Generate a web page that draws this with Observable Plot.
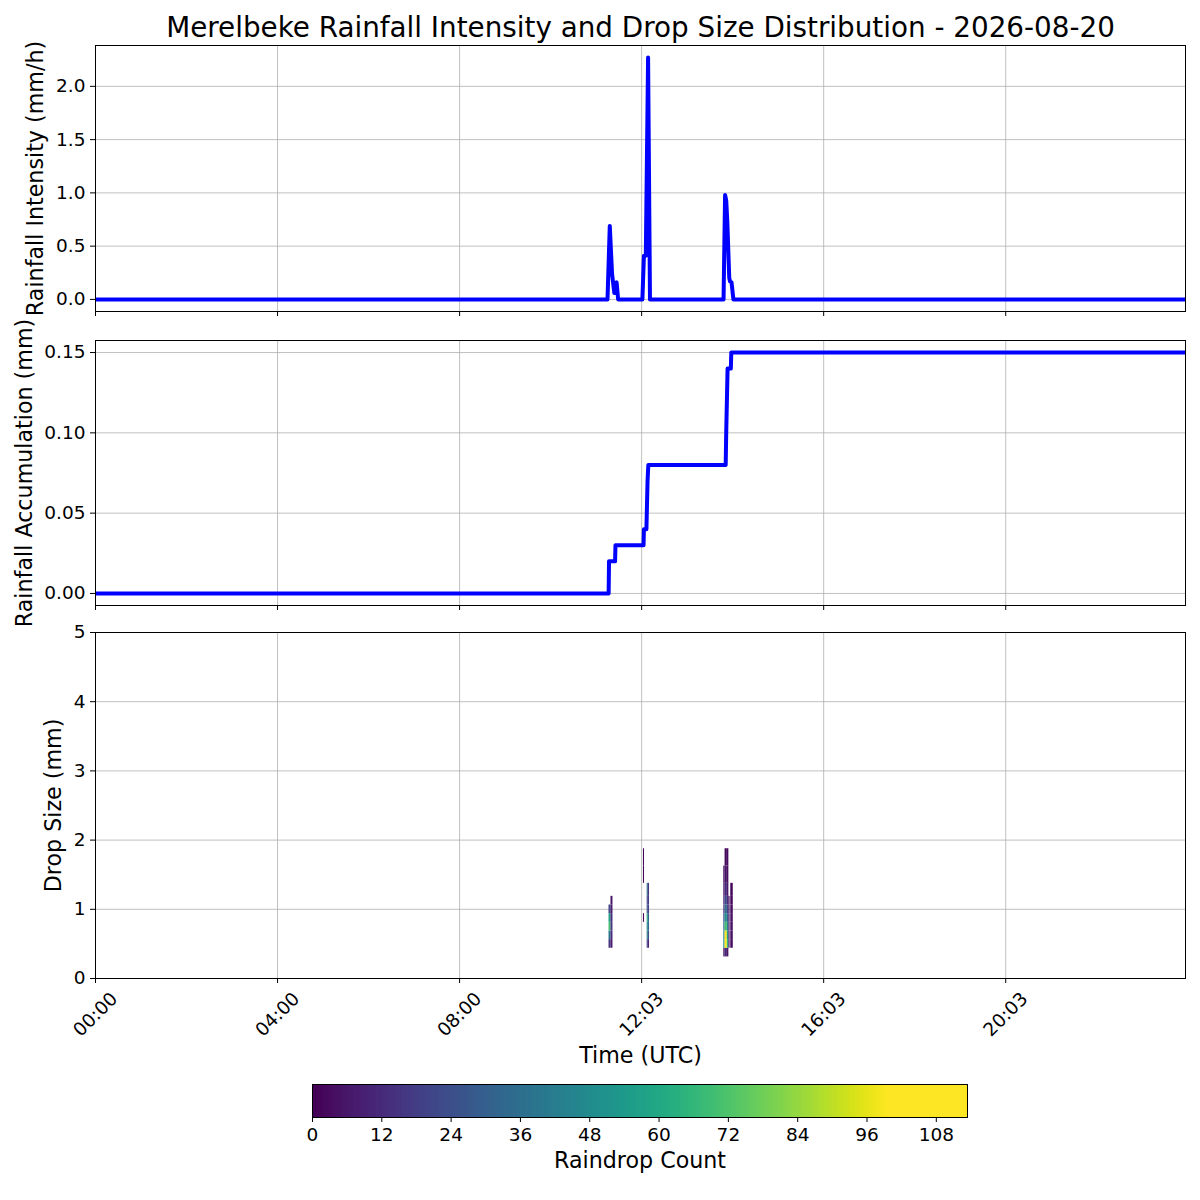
<!DOCTYPE html>
<html><head><meta charset="utf-8">
<script src="https://cdn.jsdelivr.net/npm/d3@7"></script>
<script src="https://cdn.jsdelivr.net/npm/@observablehq/plot@0.6"></script>
<style>
body{margin:0;background:#fff;}
#fig{position:relative;width:1200px;height:1200px;background:#fff;overflow:hidden;}
#fig svg{overflow:visible;}
</style></head><body><div id="fig"></div>
<script>
// ---------- data ----------
const titleText = "Merelbeke Rainfall Intensity and Drop Size Distribution - 2026-08-20";
const xDomain = [0, 1437];                       // minutes since 00:00
const xTickPos = [0, 240, 480, 720, 960, 1200];
const xTickLabels = ["00:00", "04:00", "08:00", "12:03", "16:03", "20:03"];

const intensityMinute = [0, 675, 678, 681, 684, 687, 689, 721, 723, 725.5, 728.5, 731, 828, 830, 831.5, 833, 835.5, 836.5, 838.5, 841, 1437];
const intensityValue  = [0, 0, 0.69, 0.24, 0.06, 0.16, 0, 0, 0.41, 0.41, 2.27, 0, 0, 0.98, 0.93, 0.72, 0.2, 0.17, 0.16, 0, 0];
const intensityTicks = [0, 0.5, 1.0, 1.5, 2.0];

const accumMinute = [0, 676.5, 677, 685, 685.5, 722.5, 723, 726.3, 727.8, 728.8, 830.8, 831.5, 833.3, 837.6, 838.2, 1437];
const accumValue  = [0, 0, 0.02, 0.02, 0.03, 0.03, 0.04, 0.04, 0.07, 0.08, 0.08, 0.10, 0.14, 0.14, 0.15, 0.15];
const accumTicks = [0, 0.05, 0.10, 0.15];

const dsdBinEdges = [0.062, 0.187, 0.312, 0.437, 0.562, 0.687, 0.812, 0.937, 1.062, 1.187, 1.375, 1.625, 1.875];
const dsdColStart = [677.0, 679.6, 722.4, 727.3, 728.8, 828.3, 830.0, 833.0, 835.0, 837.5];
const dsdColEnd   = [679.6, 682.2, 723.8, 728.8, 730.4, 830.0, 833.0, 835.0, 836.6, 840.8];
const dsdCounts = [
  [0, 0, 0, 15, 40, 70, 58, 20, 0, 0, 0, 0],
  [0, 0, 0, 8, 12, 16, 12, 8, 5, 0, 0, 0],
  [0, 0, 0, 0, 0, 0, 2, 0, 0, 0, 2, 2],
  [0, 0, 0, 20, 42, 48, 60, 25, 20, 36, 0, 0],
  [0, 0, 0, 10, 25, 33, 30, 20, 18, 15, 0, 0],
  [0, 0, 5, 48, 43, 33, 25, 15, 10, 6, 3, 0],
  [0, 0, 10, 112, 98, 70, 50, 34, 22, 12, 5, 2],
  [0, 0, 5, 66, 55, 42, 30, 20, 12, 6, 3, 2],
  [0, 0, 0, 6, 8, 8, 6, 4, 3, 0, 0, 0],
  [0, 0, 0, 3, 4, 4, 4, 3, 2, 2, 0, 0]
];
const dsdTicks = [0, 1, 2, 3, 4, 5];
const countMax = 113.4;        // end of the colour bar
const colorSaturation = 100;   // count where the colour map reaches full yellow
const colorbarTicks = [0, 12, 24, 36, 48, 60, 72, 84, 96, 108];

// ---------- tables ----------
const intensityData = intensityMinute.map((t, i) => ({t, v: intensityValue[i]}));
const accumData = accumMinute.map((t, i) => ({t, v: accumValue[i]}));
const cells = [];
dsdCounts.forEach((col, c) => col.forEach((n, b) => {
  if (n > 0) cells.push({x1: dsdColStart[c], x2: dsdColEnd[c], y1: dsdBinEdges[b], y2: dsdBinEdges[b + 1], count: n});
}));

// ---------- drawing ----------
const fig = document.getElementById("fig");
function place(el, top) { el.style.position = "absolute"; el.style.left = "0px"; el.style.top = top + "px"; fig.appendChild(el); }
const FONT = "DejaVu Sans, sans-serif";
const TICK = 18.5, LABEL = 22.2, TITLE = 27.8;
const style = {fontFamily: FONT, fontSize: TICK + "px", background: "transparent", overflow: "visible", color: "black"};
const grid = {stroke: "#b0b0b0", strokeOpacity: 1, strokeWidth: 0.8};
const colorScale = {type: "linear", scheme: "viridis", domain: [0, colorSaturation], clamp: true};
const xTicksOnly = () => Plot.axisX({ticks: xTickPos, tickSize: 5, tickFormat: () => "", label: null});
const yLabel = (s, dx) => Plot.text([s], {text: d => d, frameAnchor: "left", dx, rotate: -90, fontSize: LABEL, textAnchor: "middle", lineAnchor: "middle"});

const p1 = Plot.plot({
  width: 1200, height: 325, marginLeft: 95, marginRight: 15, marginTop: 45, marginBottom: 14,
  style, x: {domain: xDomain}, y: {domain: [-0.1135, 2.3835]},
  marks: [
    Plot.gridX({ticks: xTickPos, ...grid}),
    Plot.gridY({ticks: intensityTicks, ...grid}),
    Plot.line(intensityData, {x: "t", y: "v", stroke: "blue", strokeWidth: 4, strokeLinejoin: "round", clip: true}),
    Plot.frame({stroke: "black", strokeWidth: 1}),
    xTicksOnly(),
    Plot.axisY({ticks: intensityTicks, tickSize: 5, tickPadding: 5, tickFormat: d3.format(".1f"), fontSize: TICK, label: null}),
    yLabel("Rainfall Intensity (mm/h)", -60),
    Plot.text([titleText], {text: d => d, frameAnchor: "top", dy: -17, fontSize: TITLE, textAnchor: "middle", lineAnchor: "middle"})
  ]
});
place(p1, 0);

const p2 = Plot.plot({
  width: 1200, height: 290, marginLeft: 95, marginRight: 15, marginTop: 15, marginBottom: 10,
  style, x: {domain: xDomain}, y: {domain: [-0.0075, 0.1575]},
  marks: [
    Plot.gridX({ticks: xTickPos, ...grid}),
    Plot.gridY({ticks: accumTicks, ...grid}),
    Plot.line(accumData, {x: "t", y: "v", stroke: "blue", strokeWidth: 4, strokeLinejoin: "round", clip: true}),
    Plot.frame({stroke: "black", strokeWidth: 1}),
    xTicksOnly(),
    Plot.axisY({ticks: accumTicks, tickSize: 5, tickPadding: 5, tickFormat: d3.format(".2f"), fontSize: TICK, label: null}),
    yLabel("Rainfall Accumulation (mm)", -71)
  ]
});
place(p2, 325);

const p3 = Plot.plot({
  width: 1200, height: 465, marginLeft: 95, marginRight: 15, marginTop: 17, marginBottom: 102,
  style, x: {domain: xDomain}, y: {domain: [0, 5]}, color: colorScale,
  marks: [
    Plot.gridX({ticks: xTickPos, ...grid}),
    Plot.gridY({ticks: dsdTicks, ...grid}),
    Plot.rect(cells, {x1: "x1", x2: "x2", y1: "y1", y2: "y2", fill: "count"}),
    Plot.frame({stroke: "black", strokeWidth: 1}),
    xTicksOnly(),
    Plot.text(xTickPos, {x: d => d, text: (d, i) => xTickLabels[i], frameAnchor: "bottom", dy: 36, rotate: -45, fontSize: TICK, textAnchor: "middle", lineAnchor: "middle"}),
    Plot.axisY({ticks: dsdTicks, tickSize: 5, tickPadding: 5, tickFormat: d3.format("d"), fontSize: TICK, label: null}),
    yLabel("Drop Size (mm)", -42),
    Plot.text(["Time (UTC)"], {text: d => d, frameAnchor: "bottom", dy: 77, fontSize: LABEL, textAnchor: "middle", lineAnchor: "middle"})
  ]
});
place(p3, 615);

// colorbar (legend for the colour scale)
const nSteps = 400;
const cbSteps = d3.range(nSteps).map(i => i * countMax / nSteps);
const cb = Plot.plot({
  width: 1200, height: 120, marginLeft: 312, marginRight: 233, marginTop: 4, marginBottom: 83,
  style, x: {domain: [0, countMax]}, y: {domain: [0, 1], axis: null}, color: colorScale,
  marks: [
    Plot.rect(cbSteps, {x1: d => d, x2: d => Math.min(countMax, d + 1.6 * countMax / nSteps), y1: 0, y2: 1, fill: d => d + 0.5 * countMax / nSteps}),
    Plot.frame({stroke: "black", strokeWidth: 1}),
    Plot.axisX({ticks: colorbarTicks, tickSize: 5, tickPadding: 5, tickFormat: d3.format("d"), fontSize: TICK, label: null}),
    Plot.text(["Raindrop Count"], {text: d => d, frameAnchor: "bottom", dy: 43, fontSize: LABEL, textAnchor: "middle", lineAnchor: "middle"})
  ]
});
place(cb, 1080);
</script></body></html>
